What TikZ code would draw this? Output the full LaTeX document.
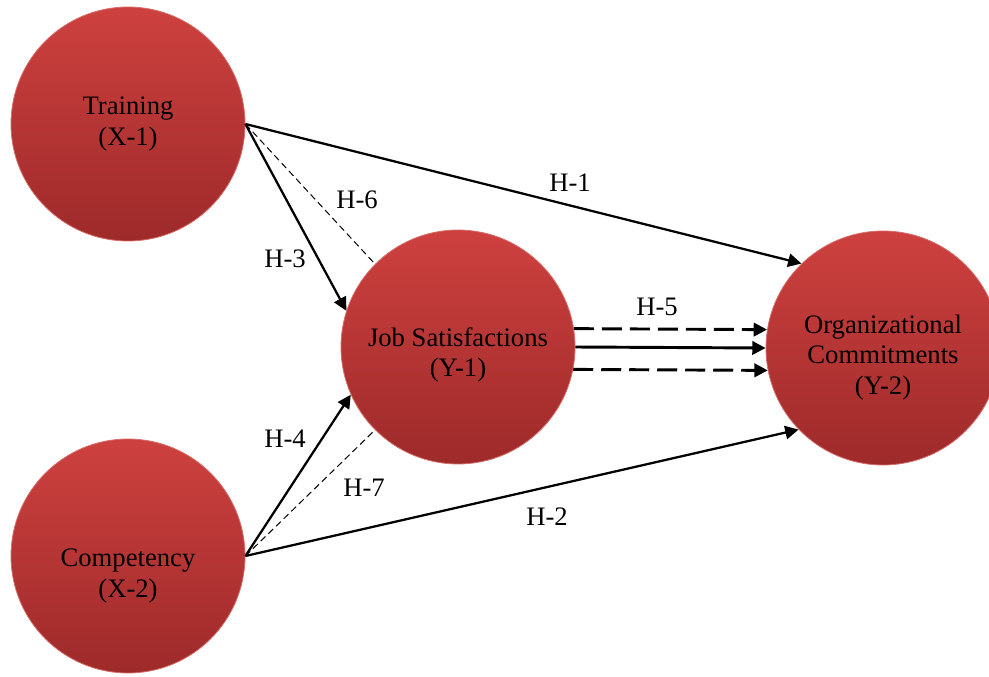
\documentclass[tikz,border=0pt]{standalone}
\usepackage{fontspec}
\setmainfont{Liberation Serif}
\usetikzlibrary{arrows.meta, shapes, positioning}
\definecolor{circtop}{RGB}{205,65,63}
\definecolor{circbottom}{RGB}{158,42,42}
\definecolor{circedge}{RGB}{214,110,108}

\begin{document}
\begin{tikzpicture}[x=0.75pt, y=-0.75pt, >={Triangle[length=10pt, width=10pt]}, line width=1.7pt,
        var/.style={circle, draw=circedge, line width=0.6pt, top color=circtop, bottom color=circbottom, minimum size=175.5pt, inner sep=0pt},
        vartext/.style={align=center, font=\fontsize{20}{23}\selectfont},
        hyp/.style={font=\fontsize{20}{23}\selectfont},
        weak/.style={dash pattern=on 5pt off 3pt, line width=0.75pt},
        strong/.style={dash pattern=on 15pt off 6pt, line width=2.2pt}]
        \useasboundingbox (0,0) rectangle (989,677);
        \node[var, label={[vartext, name=Tt]center:Training\\(X-1)}] (T) at (128,124) {};
        \node[var, label={[vartext, name=Ct, yshift=-15pt]center:Competency\\(X-2)}] (C) at (128,556) {};
        \node[var, label={[vartext, name=Jt, yshift=-6pt]center:Job Satisfactions\\(Y-1)}] (J) at (458,347) {};
        \node[var, label={[vartext, name=Ot, yshift=-7pt]center:Organizational\\Commitments\\(Y-2)}] (O) at (883,348) {};
        \node[hyp] (h1) at (570,183) {H-1};
        \node[hyp] (h2) at (547,517) {H-2};
        \node[hyp] (h3) at (285,259) {H-3};
        \node[hyp] (h4) at (285,439) {H-4};
        \node[hyp] (h5) at (657,307) {H-5};
        \node[hyp] (h6) at (357,200) {H-6};
        \node[hyp] (h7) at (364,488) {H-7};
        
        \draw[->] (T.east) -- (O.134);
        \draw[->] (C.east) -- (O.224);
        \draw[->] (T.east) -- (J.162);
        \draw[weak] (T.east) -- (J.135);
        \draw[->] (C.east) -- (J.204);
        \draw[weak] (C.east) -- (J.225);
        \draw[->, strong] (J.9) -- (O.171);
        \draw[->, line width=2.2pt] (J.0) -- (O.180);
        \draw[->, strong] (J.-11) -- (O.191);
    \end{tikzpicture}
\end{document}
